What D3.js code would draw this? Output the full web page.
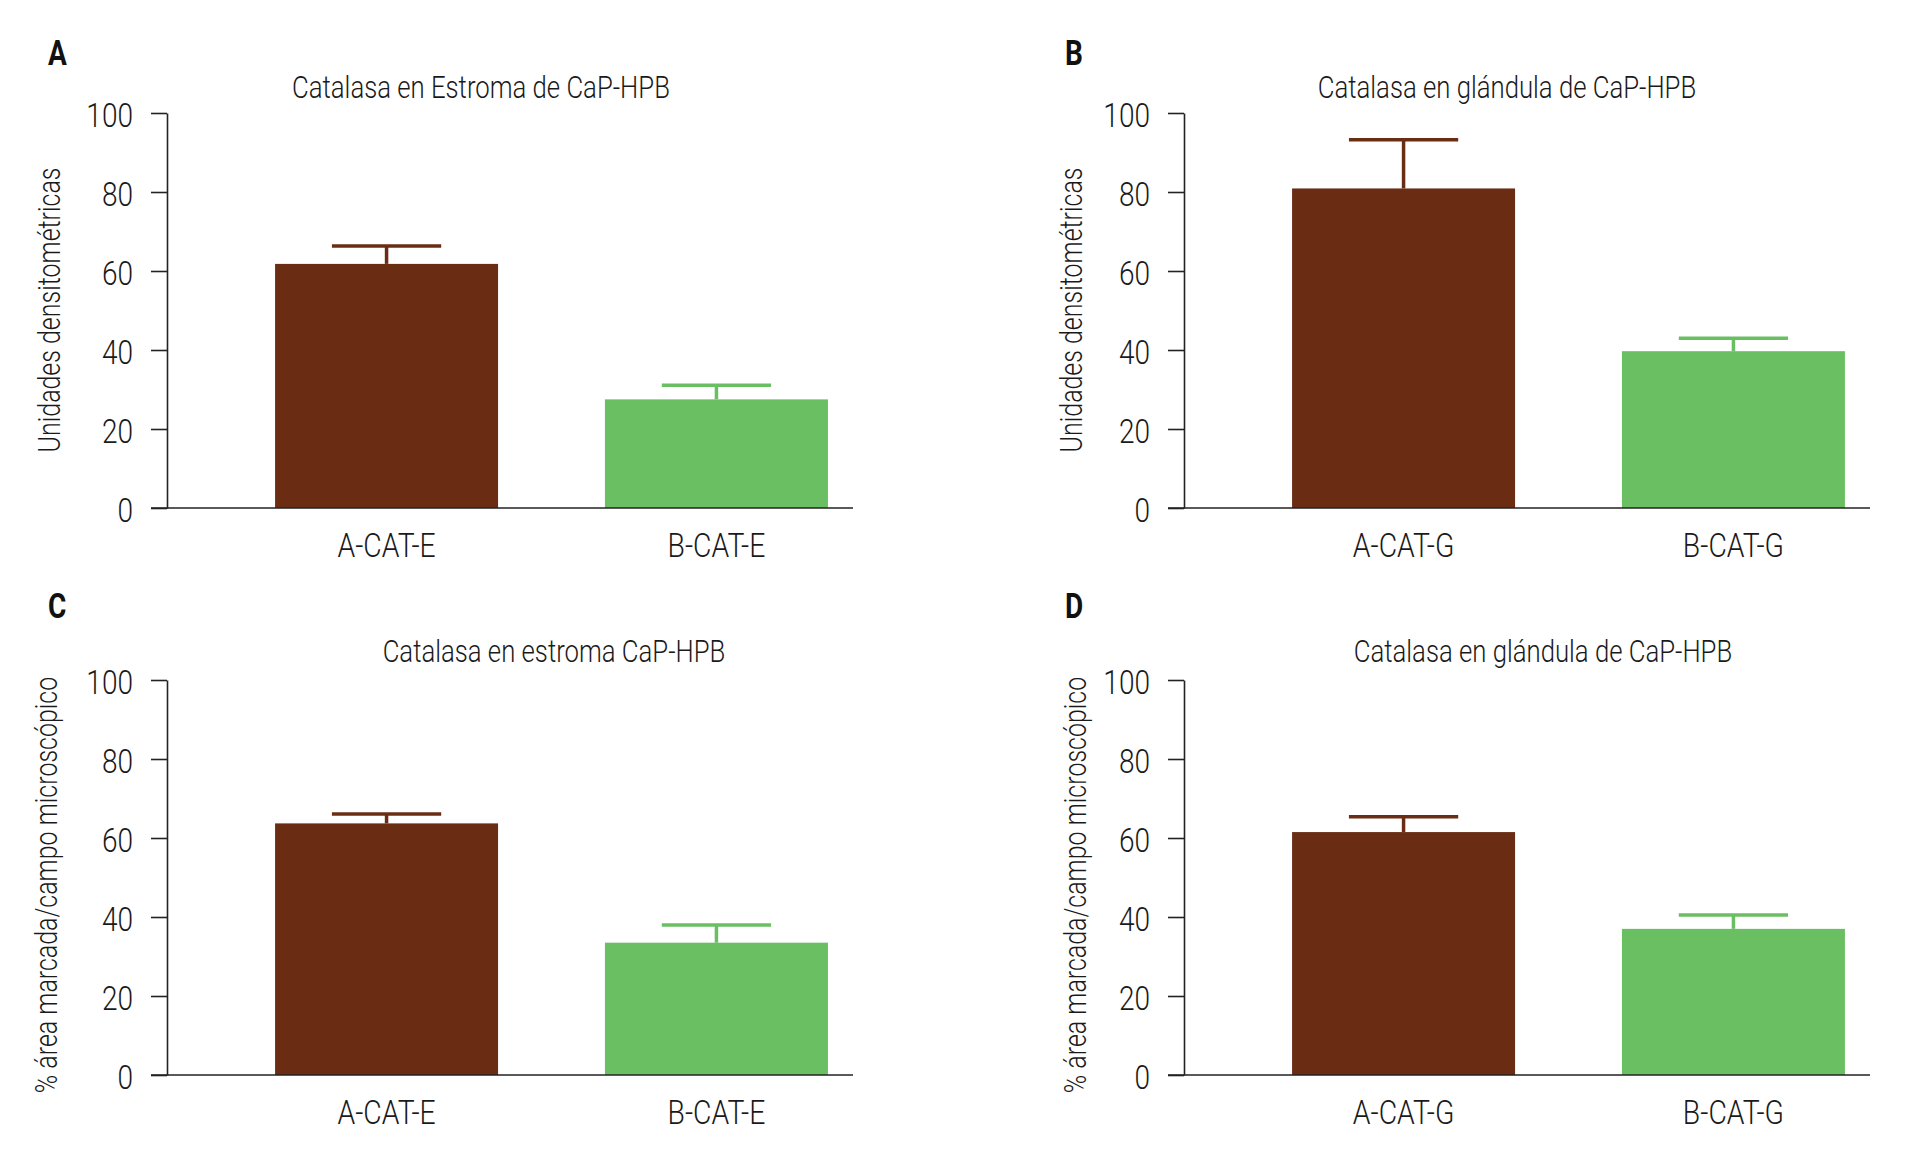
<!DOCTYPE html>
<html>
<head>
<meta charset="utf-8">
<script src="https://cdn.jsdelivr.net/npm/d3@7"></script>
<style>
  body { margin: 0; background: #fff; }
  text { font-family: Roboto, 'Open Sans', sans-serif; font-weight: 300; fill: #1a1a1a; }
</style>
</head>
<body>
<div id="app"></div>
<script>
// data
const letters = ["A", "B", "C", "D"]
const titles = [
  "Catalasa en Estroma de CaP-HPB",
  "Catalasa en glándula de CaP-HPB",
  "Catalasa en estroma CaP-HPB",
  "Catalasa en glándula de CaP-HPB"
]
const yLabels = [
  "Unidades densitométricas",
  "Unidades densitométricas",
  "% área marcada/campo microscópico",
  "% área marcada/campo microscópico"
]
const categories = [
  ["A-CAT-E", "B-CAT-E"],
  ["A-CAT-G", "B-CAT-G"],
  ["A-CAT-E", "B-CAT-E"],
  ["A-CAT-G", "B-CAT-G"]
]
const means = [
  [61.8, 27.5],
  [80.9, 39.7],
  [63.7, 33.5],
  [61.5, 37.0]
]
const errors = [
  [4.5, 3.6],
  [12.3, 3.3],
  [2.4, 4.5],
  [3.9, 3.5]
]
const yTicks = [0, 20, 40, 60, 80, 100]
const colors = ["#6a2d14", "#6abf63"]

// layout of each panel
const width = 1912,
  height = 1166,
  panelDx = 1017,
  panelDy = 567,
  axisX = 167,
  yTop = 113,
  yBottom = 508;

const titleX = [481, 490, 554, 526]
const titleY = [98, 98, 95, 95]
const labelDx = [-107, -102, -110, -98]
const labelCy = [310, 310, 318, 318]

const svg = d3.select('#app')
  .append('svg')
  .attr('width', width)
  .attr('height', height)

const y = d3.scaleLinear().domain([0, 100]).range([yBottom, yTop])

letters.forEach((letter, p) => {
  const g = svg.append('g')
    .attr('transform', `translate(${(p % 2) * panelDx},${Math.floor(p / 2) * panelDy})`)

  const x = d3.scaleBand()
    .domain(categories[p])
    .range([250, 853])
    .paddingInner(0.324)
    .paddingOuter(0.076)

  // panel letter
  g.append('text')
    .attr('transform', `translate(48,${p < 2 ? 65 : 51}) scale(0.8,1)`)
    .style('font-size', '35px')
    .style('font-weight', 700)
    .style('fill', '#111')
    .text(letter)

  // title (the original face is condensed, so squeeze horizontally)
  g.append('text')
    .attr('transform', `translate(${titleX[p]},${titleY[p]}) scale(0.83,1)`)
    .attr('text-anchor', 'middle')
    .style('font-size', '31px')
    .text(titles[p])

  // y axis title
  g.append('text')
    .attr('transform', `translate(${axisX + labelDx[p]},${labelCy[p]}) rotate(-90) scale(0.78,1)`)
    .attr('text-anchor', 'middle')
    .style('font-size', '32px')
    .text(yLabels[p])

  // bars
  g.selectAll('rect.bar')
    .data(means[p])
    .enter()
    .append('rect')
    .attr('class', 'bar')
    .attr('x', (d, i) => x(categories[p][i]))
    .attr('y', d => y(d))
    .attr('width', x.bandwidth())
    .attr('height', d => y(0) - y(d))
    .attr('fill', (d, i) => colors[i])

  // error bars (upper only)
  const err = g.selectAll('g.err')
    .data(means[p])
    .enter()
    .append('g')
    .attr('class', 'err')
    .attr('stroke', (d, i) => colors[i])
    .attr('stroke-width', 3.5)

  err.append('line')
    .attr('x1', (d, i) => x(categories[p][i]) + x.bandwidth() / 2)
    .attr('x2', (d, i) => x(categories[p][i]) + x.bandwidth() / 2)
    .attr('y1', d => y(d))
    .attr('y2', (d, i) => y(d + errors[p][i]))

  err.append('line')
    .attr('x1', (d, i) => x(categories[p][i]) + x.bandwidth() * 0.255)
    .attr('x2', (d, i) => x(categories[p][i]) + x.bandwidth() * 0.745)
    .attr('y1', (d, i) => y(d + errors[p][i]))
    .attr('y2', (d, i) => y(d + errors[p][i]))

  // y axis
  const yAxis = g.append('g')
    .attr('transform', `translate(${axisX},0)`)
    .call(d3.axisLeft(y).tickValues(yTicks).tickSize(16).tickSizeOuter(0))
  yAxis.select('.domain').attr('stroke', '#222').attr('stroke-width', 1.6)
  yAxis.selectAll('.tick line').attr('stroke', '#222').attr('stroke-width', 1.6)
  yAxis.selectAll('.tick text')
    .attr('x', 0)
    .attr('dy', '0.4em')
    .attr('transform', 'translate(-34,0) scale(0.85,1)')
    .attr('font-family', null)
    .style('font-size', '33px')

  // x baseline and labels
  g.append('line')
    .attr('x1', axisX - 16)
    .attr('x2', x.range()[1])
    .attr('y1', y(0))
    .attr('y2', y(0))
    .attr('stroke', '#222')
    .attr('stroke-width', 1.6)

  const xAxis = g.append('g')
    .attr('transform', `translate(0,${y(0)})`)
    .call(d3.axisBottom(x).tickSize(0))
  xAxis.select('.domain').remove()
  xAxis.selectAll('.tick text')
    .attr('y', 0)
    .attr('dy', '0.71em')
    .attr('transform', 'translate(0,26) scale(0.86,1)')
    .attr('font-family', null)
    .style('font-size', '33px')
})
</script>
</body>
</html>
